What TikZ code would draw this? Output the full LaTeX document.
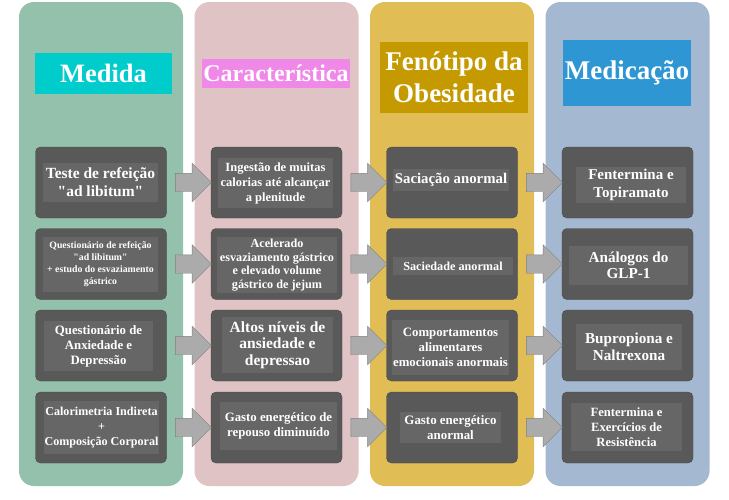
\documentclass[tikz,border=0pt]{standalone}
\usepackage{fontspec}
\setmainfont{Liberation Serif}
\usetikzlibrary{shapes.arrows,calc}
\definecolor{colA}{HTML}{93C1AB}
\definecolor{colB}{HTML}{E0C3C4}
\definecolor{colC}{HTML}{E0BD55}
\definecolor{colD}{HTML}{A5B8D2}
\definecolor{hdA}{HTML}{00CCCC}
\definecolor{hdB}{HTML}{F088E8}
\definecolor{hdC}{HTML}{C59A00}
\definecolor{hdD}{HTML}{2E97D3}
\definecolor{boxdark}{HTML}{595959}
\definecolor{boxlight}{HTML}{666666}
\definecolor{boxline}{HTML}{474747}
\definecolor{arrfill}{HTML}{ABABAB}
\definecolor{arrline}{HTML}{808080}
\newcommand\fsz[2]{\fontsize{#1pt}{#2pt}\selectfont}

\begin{document}
\begin{tikzpicture}[x=1pt,y=-1pt,font=\bfseries]
\tikzstyle{col}=[rounded corners=15pt,minimum width=164pt,minimum height=484pt,inner sep=0pt]
\tikzstyle{b}=[draw=boxline,fill=boxdark,rounded corners=5pt,minimum width=131pt,minimum height=71pt]
\tikzstyle{t}=[fill=boxlight,text=white,align=center,inner sep=0pt]
\tikzstyle{hd}=[text=white,align=center,inner sep=0pt]
\tikzstyle{arr}=[single arrow,draw=arrline,fill=arrfill,inner sep=0pt,minimum height=36pt,single arrow head extend=10pt]
\useasboundingbox (0,0) rectangle (729,499);
% colunas
\foreach \i/\c in {0/colA,1/colB,2/colC,3/colD} { \node[col,fill=\c] (k\i) at (101+175.5*\i,244) {}; }
\foreach \i in {0,1,2,3} { \foreach \j/\y in {1/182.5,2/264,3/345.5,4/427.5} { \node[b] (b\i\j) at (101+175.5*\i,\y) {}; } }
\foreach \i/\k in {0/1,1/2,2/3} { \foreach \j in {1,2,3,4} { \node[arr] (s\i\j) at ($(b\i\j.east)!0.5!(b\k\j.west)$) {\rule{0pt}{18pt}}; } }
% titulos
\node[hd,fill=hdA,minimum width=137pt,minimum height=41pt,font=\bfseries\fsz{26.5}{30}] (h0) at (103.5,73.5) {Medida};
\node[hd,fill=hdB,minimum width=148pt,minimum height=29pt,font=\bfseries\fsz{24}{28}] (h1) at (276,73.5) {Característica};
\node[hd,fill=hdC,minimum width=148pt,minimum height=71pt,font=\bfseries\fsz{27}{31.7}] (h2) at (454,77.5) {Fenótipo da\\Obesidade};
\node[hd,fill=hdD,minimum width=128pt,minimum height=66pt,font=\bfseries\fsz{27}{31}] (h3) at (627,73) {Medicação};
% linha 1
\node[t,minimum width=115pt,minimum height=39pt,font=\bfseries\fsz{15.5}{18}] (t01) at (100.5,182.5) {Teste de refeição\\\textquotedbl ad libitum\textquotedbl};
\node[t,minimum width=115pt,minimum height=50pt,font=\bfseries\fsz{12.5}{15}] (t11) at (275.5,183) {Ingestão de muitas\\calorias até alcançar\\a plenitude};
\node[t,minimum width=116pt,minimum height=22pt,font=\bfseries\fsz{14.8}{17}] (t21) at (451,180) {Saciação anormal};
\node[t,minimum width=110pt,minimum height=36pt,font=\bfseries\fsz{15}{18}] (t31) at (631,185) {Fentermina e\\Topiramato};
% linha 2
\node[t,minimum width=115pt,minimum height=55pt,font=\bfseries\fsz{9.8}{12}] (t02) at (100.5,264.5) {Questionário de refeição\\\textquotedbl ad libitum\textquotedbl\\+ estudo do esvaziamento\\gástrico};
\node[t,minimum width=120pt,minimum height=56pt,font=\bfseries\fsz{12.2}{13.5}] (t12) at (277,265) {Acelerado\\esvaziamento gástrico\\e elevado volume\\gástrico de jejum};
\node[t,minimum width=120pt,minimum height=18pt,font=\bfseries\fsz{12.2}{14}] (t22) at (453,266) {Saciedade anormal};
\node[t,minimum width=119pt,minimum height=39pt,font=\bfseries\fsz{15.2}{16}] (t32) at (628.5,265.5) {Análogos do\\GLP-1};
% linha 3
\node[t,minimum width=109pt,minimum height=50pt,font=\bfseries\fsz{12.8}{15}] (t03) at (98.5,346) {Questionário de\\Anxiedade e\\Depressão};
\node[t,minimum width=111pt,minimum height=56pt,font=\bfseries\fsz{15.5}{16.7}] (t13) at (277.5,345) {Altos níveis de\\ansiedade e\\depressao};
\node[t,minimum width=117pt,minimum height=55pt,font=\bfseries\fsz{12.8}{15}] (t23) at (450.5,347.5) {Comportamentos\\alimentares\\emocionais anormais};
\node[t,minimum width=106pt,minimum height=46pt,font=\bfseries\fsz{15.2}{16.5}] (t33) at (629,347) {Bupropiona e\\Naltrexona};
% linha 4
\node[t,minimum width=115pt,minimum height=53pt,font=\bfseries\fsz{12.1}{15}] (t04) at (101.5,427.5) {Calorimetria Indireta\\+\\Composição Corporal};
\node[t,minimum width=117pt,minimum height=48pt,font=\bfseries\fsz{12.8}{15}] (t14) at (278.5,426) {Gasto energético de\\repouso diminuído};
\node[t,minimum width=101pt,minimum height=31pt,font=\bfseries\fsz{12.9}{15}] (t24) at (450.5,427.5) {Gasto energético\\anormal};
\node[t,minimum width=111pt,minimum height=48pt,font=\bfseries\fsz{12.6}{15}] (t34) at (626.5,427) {Fentermina e\\Exercícios de\\Resistência};
\end{tikzpicture}
\end{document}
